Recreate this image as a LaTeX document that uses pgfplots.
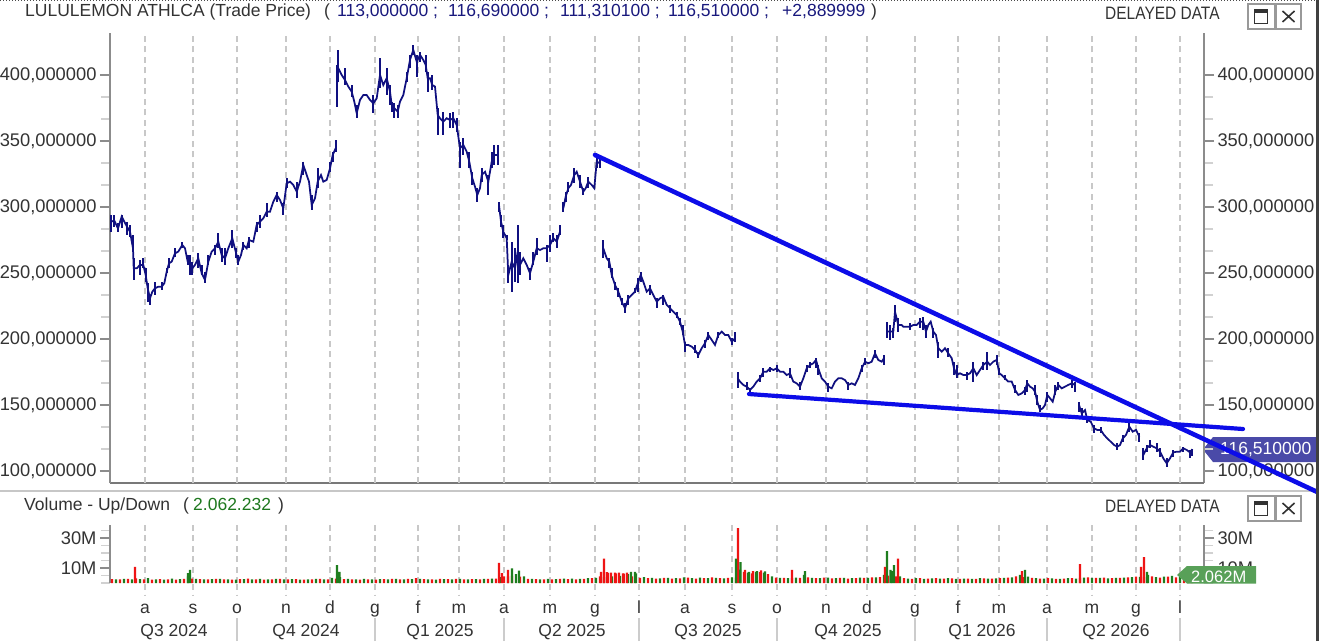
\documentclass[border=0pt]{standalone}
\usepackage{fontspec}
\setmainfont{Liberation Sans}
\newfontfamily\narrowfont[FakeStretch=0.86]{Liberation Sans}
\usepackage{pgfplots}
\pgfplotsset{compat=1.18}
\usepackage{pgfplotstable}
\definecolor{navyc}{RGB}{16,16,128}
\definecolor{trendblue}{RGB}{12,12,232}
\definecolor{volred}{RGB}{238,20,20}
\definecolor{volgreen}{RGB}{30,125,30}
\definecolor{tagblue}{RGB}{74,74,168}
\definecolor{taggreen}{RGB}{88,160,88}
\definecolor{gridgray}{RGB}{200,200,200}
\definecolor{axisgray}{RGB}{140,140,140}
\definecolor{axisdark}{RGB}{120,120,120}
\definecolor{textgray}{RGB}{51,51,51}
\definecolor{titlenavy}{RGB}{25,25,125}
\definecolor{valgreen}{RGB}{30,120,30}
\newcommand\fs{\fontsize{17.5pt}{21pt}\selectfont}
\newcommand\fst{\fontsize{18.3pt}{21pt}\selectfont}

\pgfplotstableread{
x y h l
111.0 288.9 293.9 281.3
114.3 289.6 293.9 285.1
118.0 283.8 287.6 281.3
121.7 292.7 293.9 283.8
124.3 288.9 288.9 288.9
127.0 285.1 288.9 278.8
130.0 281.3 286.4 277.5
133.0 268.7 278.8 267.4
133.7 253.5 261.1 244.7
136.7 253.5 253.5 253.5
140.0 256.1 259.8 248.5
143.3 256.1 261.1 253.5
145.7 248.5 253.5 243.4
147.7 238.4 242.2 228.3
150.0 230.8 233.3 225.8
152.3 235.8 235.8 235.8
155.0 238.4 243.4 233.3
158.3 239.6 239.6 239.6
161.7 239.6 243.4 237.1
164.3 242.2 242.2 242.2
166.7 251.0 253.5 249.8
169.0 257.3 261.1 253.5
171.7 258.6 258.6 258.6
175.0 264.9 268.7 262.4
178.3 266.2 266.2 266.2
182.3 271.2 273.7 268.7
185.0 268.7 268.7 268.7
187.7 258.6 263.6 256.1
190.0 256.1 263.6 248.5
192.3 253.5 258.6 248.5
195.0 256.1 256.1 256.1
198.3 261.1 264.9 253.5
201.7 249.8 256.1 248.5
205.0 244.7 251.0 242.2
208.3 258.6 263.6 256.1
211.7 266.2 266.2 266.2
215.0 268.7 271.2 263.6
218.3 273.7 280.0 268.7
221.7 263.6 268.7 258.6
225.0 261.1 268.7 256.1
228.3 268.7 268.7 268.7
232.3 276.3 282.6 268.7
235.7 266.2 268.7 261.1
238.3 258.6 263.6 256.1
241.0 263.6 263.6 263.6
243.3 271.2 273.7 267.4
246.7 268.7 268.7 268.7
249.0 275.0 277.5 268.7
253.3 273.7 273.7 273.7
256.7 286.4 288.9 281.3
260.0 288.9 293.9 283.8
263.3 291.4 291.4 291.4
266.7 296.4 302.8 292.7
270.0 296.4 296.4 296.4
273.3 304.0 304.0 304.0
276.7 309.1 311.6 304.0
280.0 305.3 305.3 305.3
283.3 299.0 302.8 293.9
286.7 317.9 321.7 314.2
290.0 319.2 319.2 319.2
293.3 316.7 316.7 316.7
296.7 311.6 319.2 306.6
300.0 319.2 319.2 319.2
303.3 331.8 334.3 324.2
306.7 324.2 324.2 324.2
309.0 319.2 319.2 319.2
311.7 301.5 309.1 297.7
315.0 306.6 306.6 306.6
317.7 319.2 329.3 314.2
321.0 324.2 324.2 324.2
323.3 319.2 319.2 319.2
326.7 320.5 320.5 320.5
330.0 329.3 334.3 326.7
332.7 339.4 341.9 334.3
335.7 344.5 350.8 341.9
336.9 392.4 407.6 376.0
338.3 405.1 418.9 394.9
341.7 400.0 400.0 400.0
345.0 396.2 405.1 392.4
348.3 391.2 391.2 391.2
351.7 387.4 392.4 383.6
354.3 379.8 379.8 379.8
356.7 371.0 377.3 367.2
360.0 381.1 381.1 381.1
363.3 384.8 384.8 384.8
366.7 384.8 384.8 384.8
370.0 381.1 381.1 381.1
373.3 378.5 384.8 371.0
376.7 382.3 382.3 382.3
380.0 400.0 412.6 389.9
383.3 392.4 392.4 392.4
386.7 397.5 405.1 384.8
390.0 387.4 392.4 377.3
391.7 377.3 379.8 372.2
394.3 374.8 378.5 367.2
397.7 372.2 377.3 367.2
400.0 379.8 379.8 379.8
403.3 384.8 384.8 384.8
406.7 397.5 402.5 394.9
410.0 411.4 415.2 405.1
413.3 418.9 422.7 415.2
416.7 410.1 415.2 398.7
420.0 415.2 417.7 410.1
423.3 411.4 411.4 411.4
425.7 407.6 415.2 402.5
427.7 397.5 402.5 387.4
430.0 397.5 397.5 397.5
432.3 392.4 400.0 388.6
435.0 391.2 391.2 391.2
437.7 369.7 374.8 354.5
440.0 367.2 367.2 367.2
443.3 364.6 372.2 354.5
446.7 367.2 367.2 367.2
450.0 365.9 371.0 359.6
453.3 367.2 372.2 359.6
456.7 362.1 367.2 357.0
460.0 344.5 349.5 329.3
463.3 347.0 352.0 339.4
466.7 341.9 341.9 341.9
469.3 334.3 341.9 329.3
472.3 321.7 326.7 316.7
475.0 315.4 315.4 315.4
477.3 309.1 314.2 304.0
480.0 314.2 314.2 314.2
481.7 324.2 329.3 319.2
485.0 326.7 326.7 326.7
488.3 319.2 324.2 309.1
491.7 334.3 341.9 329.3
494.3 339.4 347.0 331.8
497.7 339.4 347.0 331.8
499.0 301.5 304.0 296.4
501.0 288.9 293.9 285.1
503.3 281.3 286.4 276.3
506.7 276.3 278.8 275.0
508.3 248.5 253.5 242.2
511.7 258.6 273.7 235.8
515.0 253.5 268.7 243.4
517.7 266.2 286.4 242.2
520.0 256.1 266.2 248.5
523.3 261.1 261.1 261.1
526.7 256.1 256.1 256.1
530.0 249.8 253.5 244.7
533.3 258.6 266.2 256.1
536.7 268.7 276.3 263.6
540.0 267.4 267.4 267.4
543.3 268.7 268.7 268.7
546.7 268.7 271.2 258.6
550.0 271.2 278.8 266.2
553.3 276.3 280.0 273.7
556.7 273.7 278.8 268.7
560.0 281.3 286.4 278.8
563.3 299.0 304.0 296.4
565.7 307.8 311.6 304.0
568.3 314.2 319.2 311.6
571.0 316.7 316.7 316.7
574.3 324.2 329.3 317.9
576.7 326.7 326.7 326.7
580.0 319.2 324.2 314.2
583.3 311.6 314.2 309.1
585.7 314.2 314.2 314.2
588.3 319.2 323.0 314.2
591.7 316.7 316.7 316.7
594.3 314.2 314.2 314.2
596.7 334.3 339.4 329.3
600.0 333.1 336.9 329.3
603.3 268.7 275.0 261.1
606.7 261.1 261.1 261.1
609.3 258.6 261.1 253.5
611.7 248.5 253.5 246.0
615.0 240.9 243.4 237.1
618.3 235.8 238.4 232.0
621.7 228.3 230.8 225.8
625.0 223.3 227.0 219.5
628.3 230.8 233.3 225.8
631.7 233.3 233.3 233.3
635.0 235.8 238.4 234.6
638.3 243.4 246.0 235.8
640.7 248.5 251.0 243.4
643.3 243.4 243.4 243.4
646.7 235.8 235.8 235.8
650.0 238.4 240.9 233.3
653.3 233.3 233.3 233.3
656.7 228.3 230.8 223.3
660.0 230.8 230.8 230.8
663.3 232.0 233.3 225.8
666.7 225.8 225.8 225.8
670.0 223.3 225.8 219.5
673.3 220.7 220.7 220.7
676.7 218.2 220.7 215.7
680.0 213.1 215.7 210.6
682.7 205.6 210.6 203.0
685.0 195.5 198.0 190.4
688.3 195.5 195.5 195.5
691.7 194.2 194.2 194.2
695.0 191.7 195.5 189.1
698.3 187.9 190.4 185.4
701.7 193.0 193.0 193.0
705.0 196.8 199.3 193.0
708.3 203.0 205.6 199.3
711.7 199.3 199.3 199.3
715.0 195.5 195.5 195.5
718.3 203.0 205.6 200.5
721.7 205.6 205.6 205.6
725.0 203.0 203.0 203.0
728.3 203.0 203.0 203.0
731.7 198.0 200.5 195.5
735.0 200.5 205.6 198.0
737.7 170.2 175.2 162.6
740.0 167.7 167.7 167.7
743.3 165.2 165.2 165.2
746.7 163.9 167.7 161.4
750.0 161.4 162.6 158.8
753.3 163.9 163.9 163.9
756.7 167.7 167.7 167.7
760.0 170.2 172.7 167.7
763.3 175.2 177.8 171.5
766.7 175.2 175.2 175.2
770.0 177.8 179.0 175.2
773.3 176.5 176.5 176.5
776.7 177.8 180.3 175.2
780.0 175.2 175.2 175.2
783.3 175.2 175.2 175.2
786.7 172.7 172.7 172.7
790.0 173.9 177.8 170.2
793.3 167.7 167.7 167.7
796.7 166.4 166.4 166.4
800.0 163.9 167.7 161.4
803.3 170.2 170.2 170.2
806.7 177.8 180.3 175.2
810.0 180.3 182.8 177.8
813.3 181.6 181.6 181.6
816.0 184.1 185.4 177.8
818.3 177.8 180.3 172.7
821.7 170.2 170.2 170.2
825.0 167.7 167.7 167.7
828.3 163.9 166.4 160.1
831.7 162.6 162.6 162.6
835.0 167.7 167.7 167.7
838.3 170.2 170.2 170.2
841.7 170.2 170.2 170.2
845.0 168.9 168.9 168.9
848.3 165.2 167.7 161.4
851.7 166.4 166.4 166.4
855.0 165.2 165.2 165.2
858.3 170.2 170.2 170.2
861.7 177.8 180.3 175.2
865.0 182.8 185.4 180.3
868.3 181.6 181.6 181.6
871.7 182.8 182.8 182.8
875.0 189.1 191.7 185.4
878.3 184.1 184.1 184.1
881.7 182.8 182.8 182.8
884.0 185.4 187.9 180.3
886.7 205.6 213.1 200.5
890.0 205.6 210.6 199.3
893.3 205.6 208.1 200.5
895.0 220.7 225.8 213.1
898.3 210.6 215.7 205.6
901.7 210.6 210.6 210.6
903.3 209.3 209.3 209.3
906.7 209.3 209.3 209.3
910.0 209.3 211.9 206.8
913.3 210.6 210.6 210.6
916.7 210.6 210.6 210.6
920.0 213.1 215.7 208.1
923.3 213.1 216.9 206.8
926.0 205.6 210.6 200.5
928.3 210.6 210.6 210.6
930.7 213.1 213.1 213.1
933.3 205.6 208.1 200.5
936.0 203.0 203.0 203.0
938.3 193.0 198.0 185.4
941.7 190.4 190.4 190.4
945.0 193.0 193.0 193.0
948.3 189.1 193.0 186.6
951.7 185.4 185.4 185.4
954.0 177.8 182.8 172.7
956.7 172.7 180.3 170.2
960.0 174.0 174.0 174.0
963.3 172.7 172.7 172.7
966.7 172.7 175.2 168.9
970.0 174.0 174.0 174.0
973.3 177.8 182.8 167.7
976.7 172.7 172.7 172.7
980.0 176.5 176.5 176.5
983.3 180.3 182.8 176.5
987.3 182.8 190.4 176.5
990.0 180.3 180.3 180.3
993.3 182.8 182.8 182.8
996.7 184.1 187.9 180.3
999.3 174.0 177.8 172.7
1001.7 172.7 172.7 172.7
1005.0 170.2 172.7 168.9
1008.3 167.7 167.7 167.7
1011.7 167.7 167.7 167.7
1015.0 161.4 165.2 158.8
1018.3 157.6 157.6 157.6
1021.7 158.8 158.8 158.8
1025.0 161.4 163.9 157.6
1027.3 166.4 168.9 160.1
1030.0 163.9 163.9 163.9
1032.7 162.6 162.6 162.6
1035.0 160.1 165.2 157.6
1037.3 152.5 157.6 150.0
1040.0 146.2 150.0 144.9
1042.7 147.5 147.5 147.5
1045.0 150.0 150.0 150.0
1047.3 157.6 160.1 152.5
1050.0 155.1 155.1 155.1
1052.7 152.5 152.5 152.5
1055.3 160.1 165.2 157.6
1058.3 165.2 167.7 161.4
1061.7 162.6 162.6 162.6
1065.0 163.9 163.9 163.9
1068.3 165.2 165.2 165.2
1071.7 166.4 168.9 162.6
1075.0 165.2 167.7 160.1
1079.0 150.0 152.5 144.9
1081.7 143.7 147.5 141.1
1085.0 146.2 146.2 146.2
1087.3 138.6 141.1 136.1
1090.7 137.4 137.4 137.4
1094.0 132.3 134.8 128.5
1097.3 131.1 131.1 131.1
1100.7 131.1 133.6 128.5
1104.0 127.3 127.3 127.3
1107.3 124.7 124.7 124.7
1110.7 122.2 122.2 122.2
1114.0 119.7 119.7 119.7
1117.3 118.4 121.0 115.9
1120.0 119.7 119.7 119.7
1122.7 124.7 127.3 122.2
1126.0 127.3 127.3 127.3
1129.3 133.6 136.1 129.8
1132.7 129.8 129.8 129.8
1136.0 131.1 131.1 131.1
1139.3 126.0 128.5 122.2
1143.3 112.1 117.2 108.3
1146.7 117.2 119.7 114.6
1150.0 119.7 123.5 117.2
1153.3 118.4 118.4 118.4
1156.7 117.2 121.0 114.6
1160.0 114.6 117.2 110.8
1163.3 109.6 109.6 109.6
1166.7 105.8 109.6 103.3
1170.0 109.6 109.6 109.6
1173.3 114.1 115.9 110.8
1176.7 114.6 114.6 114.6
1180.0 114.6 114.6 114.6
1183.3 117.2 118.4 114.6
1186.7 115.9 115.9 115.9
1190.0 114.1 115.9 109.6
1192.3 116.5 116.7 111.3
}\pricedata

\pgfplotsset{
  pricestyle/.style={navyc, line width=1.75pt, mark=none, forget plot,
    error bars/.cd, y dir=both, y explicit, error mark=none,
    error bar style={line width=2pt, navyc}},
  volbar/.style={ybar, bar width=2.3pt, bar shift=0pt, draw=none, fill=#1, forget plot},
  panel/.style={anchor=south west, scale only axis, width=1094pt,
    xmin=110, xmax=1204, tick align=outside,
    major tick length=10pt, minor tick length=9pt,
    major tick style={axisgray, line width=1.3pt},
    minor tick style={black!18, line width=1.3pt},
    yticklabel style={font=\fst, text=textgray},
    y axis line style={draw=axisgray, line width=2pt},
    major grid style={gridgray, line width=1.3pt, dash pattern=on 6pt off 4.5pt}},
  monthgrid/.style={xtick=\empty,
    extra x ticks={145,193,237,286,330,375,418,459,504,550,595,639,685,732,777,826,867,915,958,999,1047,1092,1136,1180},
    extra x tick labels={},
    extra x tick style={grid=major, major tick length=0pt}},
}
\newcommand\seg[2]{\addplot[restrict x to domain=#1:#2, pricestyle] table[x=x, y=y, y error plus expr={\thisrow{h}-\thisrow{y}}, y error minus expr={\thisrow{y}-\thisrow{l}}] {\pricedata};}

\begin{document}
\begin{tikzpicture}[x=1pt,y=1pt]
\useasboundingbox (0,0) rectangle (1319,641);
\fill[white] (0,0) rectangle (1319,641);
\clip (0,0) rectangle (1319,641);
% top dotted line
\draw[black!70, line width=1.3pt, dash pattern=on 1.3pt off 1.7pt] (0,640.3) -- (1319,640.3);
% header
\node[anchor=base west, inner sep=0, text=textgray, font=\fs] at (25,624) {LULULEMON ATHLCA (Trade Price)};
\node[anchor=base west, inner sep=0, text=textgray, font=\fs] at (324,624) {(};
\node[anchor=base west, inner sep=0, text=titlenavy, font=\fs] at (337,624) {113,000000 ;};
\node[anchor=base west, inner sep=0, text=titlenavy, font=\fs] at (448,624) {116,690000 ;};
\node[anchor=base west, inner sep=0, text=titlenavy, font=\fs] at (560,624) {111,310100 ;};
\node[anchor=base west, inner sep=0, text=titlenavy, font=\fs] at (668,624) {116,510000 ;};
\node[anchor=base west, inner sep=0, text=titlenavy, font=\fs] at (782,624) {+2,889999};
\node[anchor=base west, inner sep=0, text=textgray, font=\fs] at (871,624) {)};
\node[anchor=base west, inner sep=0, text=textgray, font=\narrowfont\fontsize{18pt}{21pt}\selectfont] at (1105,621) {DELAYED DATA};
\foreach \yy in {612,120}{
  \begin{scope}[yshift=\yy pt]
  \draw[black!40, line width=1.5pt] (1248,0) rectangle (1274.5,25);
  \draw[black!40, line width=1.5pt] (1276,0) rectangle (1301,25);
  \draw[black!80, line width=1.2pt] (1254.5,5.5) rectangle (1267.5,19);
  \fill[black!80] (1254.5,16) rectangle (1267.5,19);
  \draw[black!80, line width=1.6pt] (1282.5,7) -- (1294.5,18) (1282.5,18) -- (1294.5,7);
  \end{scope}
}
% separator
\draw[black!22, line width=2pt] (0,150) -- (1319,150);
% price tag
\fill[tagblue] (1203,191.5) -- (1213,204) -- (1319,204) -- (1319,179) -- (1213,179) -- cycle;
\node[anchor=west, inner sep=0, text=white, font=\fs] at (1220,191.5) {116,510000};
% right price labels
\begin{axis}[panel, at={(110pt,158pt)}, height=450pt, ymin=90.9, ymax=431.8,
  axis x line=none, xtick=\empty, axis y line*=right, ytick pos=right, yticklabel pos=right,
  ytick={100,150,200,250,300,350,400},
  yticklabels={{100,000000},{150,000000},{200,000000},{250,000000},{300,000000},{350,000000},{400,000000}},
  minor y tick num=2]
\end{axis}
% main price panel
\begin{axis}[panel, monthgrid, at={(110pt,158pt)}, height=450pt, ymin=90.9, ymax=431.8,
  axis x line*=bottom, axis y line*=left, ytick pos=left, yticklabel pos=left,
  x axis line style={draw=axisdark, line width=2.5pt},
  ytick={100,150,200,250,300,350,400},
  yticklabels={{100,000000},{150,000000},{200,000000},{250,000000},{300,000000},{350,000000},{400,000000}},
  minor y tick num=2, clip=false]
\seg{110}{336}
\seg{336.5}{498}
\seg{498.5}{561}
\seg{562}{601}
\seg{602}{736}
\seg{737}{885}
\seg{886}{1076}
\seg{1078}{1140}
\seg{1142}{1193}
\addplot[trendblue, line width=4.6pt, line cap=round] coordinates {(595,339.4) (1330,79.6)};
\addplot[trendblue, line width=4.2pt, line cap=round] coordinates {(749,158.3) (1243,131.8)};
\end{axis}
% volume panel title
\node[anchor=base west, inner sep=0, text=textgray, font=\fs] at (24,131) {Volume - Up/Down};
\node[anchor=base west, inner sep=0, text=textgray, font=\fs] at (183,131) {(};
\node[anchor=base west, inner sep=0, text=valgreen, font=\fs] at (193,131) {2.062.232};
\node[anchor=base west, inner sep=0, text=textgray, font=\fs] at (278,131) {)};
\node[anchor=base west, inner sep=0, text=textgray, font=\narrowfont\fontsize{18pt}{21pt}\selectfont] at (1105,129) {DELAYED DATA};
% right volume labels
\begin{axis}[panel, at={(110pt,58pt)}, height=58pt, ymin=0, ymax=38.7,
  axis x line=none, xtick=\empty, axis y line*=right, ytick pos=right, yticklabel pos=right,
  ytick={10,30}, yticklabels={10M,30M}, minor ytick={0,5,15,20,25,35}]
\end{axis}
% volume panel
\begin{axis}[panel, monthgrid, at={(110pt,58pt)}, height=58pt, ymin=0, ymax=38.7,
  axis x line*=bottom, x axis line style={draw=none}, axis y line*=left, ytick pos=left, yticklabel pos=left,
  ytick={10,30}, yticklabels={10M,30M}, minor ytick={0,5,15,20,25,35}, clip=false]
\addplot[volbar=volred] coordinates {(112,2.6)(120,2.4)(128,2.7)(136,3.1)(144,2.5)(152,2.3)(160,2.6)(168,2.4)(176,2.2)(184,2.8)(192,3.0)(200,2.6)(208,2.4)(216,2.7)(224,2.5)(232,2.3)(240,2.6)(248,2.9)(256,2.4)(264,2.2)(272,2.5)(280,2.7)(288,2.4)(296,2.6)(304,2.3)(312,2.5)(320,2.8)(328,2.4)(336,3.0)(344,2.6)(352,2.4)(360,2.3)(368,2.5)(376,2.2)(384,2.6)(392,2.8)(400,2.4)(408,2.7)(416,3.2)(424,2.6)(432,2.5)(440,2.7)(448,2.6)(456,2.8)(464,2.5)(472,2.6)(480,2.4)(488,2.7)(496,3.0)(504,4.5)(512,5.0)(520,4.2)(528,2.8)(536,2.6)(544,2.5)(552,2.4)(560,2.7)(568,2.6)(576,2.5)(584,2.8)(592,3.2)(600,4.5)(608,6.8)(616,6.5)(624,6.2)(632,4.5)(640,3.5)(648,3.2)(656,3.0)(664,3.4)(672,2.9)(680,3.1)(688,3.6)(696,3.0)(704,3.3)(712,3.8)(720,3.2)(728,3.5)(736,3.6)(744,7.5)(752,6.5)(760,7.2)(768,6.0)(776,3.6)(784,3.4)(792,3.2)(800,3.5)(808,3.8)(816,3.3)(824,3.6)(832,3.1)(840,3.4)(848,3.0)(856,3.3)(864,3.5)(872,3.8)(880,4.0)(888,5.0)(896,4.5)(904,3.2)(912,2.8)(920,3.3)(928,3.0)(936,3.2)(944,2.9)(952,3.1)(960,2.8)(968,3.0)(976,2.7)(984,3.1)(992,2.9)(1000,3.2)(1008,3.6)(1016,4.5)(1024,4.0)(1032,3.4)(1040,3.0)(1048,3.2)(1056,2.8)(1064,3.0)(1072,3.3)(1080,3.5)(1088,3.8)(1096,3.4)(1104,3.6)(1112,3.2)(1120,3.5)(1128,3.7)(1136,4.2)(1144,4.0)(1152,4.5)(1160,3.6)(1168,4.2)(1176,3.8)(1184,4.4)(1192,3.5)};
\addplot[volbar=volgreen] coordinates {(116,2.5)(124,2.8)(132,2.4)(140,2.6)(148,3.2)(156,2.5)(164,2.3)(172,2.9)(180,2.6)(188,4.5)(196,2.7)(204,2.4)(212,2.6)(220,2.8)(228,2.5)(236,2.3)(244,2.6)(252,2.4)(260,2.7)(268,2.5)(276,2.8)(284,2.4)(292,2.6)(300,2.3)(308,2.5)(316,2.7)(324,2.4)(332,3.5)(340,4.0)(348,2.8)(356,2.5)(364,2.7)(372,2.4)(380,2.6)(388,2.5)(396,2.8)(404,2.4)(412,2.6)(420,2.7)(428,2.5)(436,2.3)(444,2.6)(452,2.4)(460,2.7)(468,2.5)(476,2.6)(484,2.8)(492,3.0)(500,4.0)(508,4.5)(516,6.0)(524,4.5)(532,2.7)(540,2.5)(548,2.8)(556,2.6)(564,2.9)(572,3.0)(580,2.7)(588,3.3)(596,3.5)(604,4.0)(612,4.5)(620,4.8)(628,6.0)(636,6.5)(644,4.0)(652,3.4)(660,3.1)(668,3.5)(676,3.2)(684,3.8)(692,3.3)(700,3.6)(708,3.2)(716,3.4)(724,3.1)(732,3.8)(740,9.0)(748,7.0)(756,7.5)(764,7.0)(772,4.5)(780,3.5)(788,3.2)(796,3.6)(804,5.5)(812,3.4)(820,3.2)(828,3.6)(836,3.3)(844,3.5)(852,3.2)(860,3.6)(868,3.4)(876,3.7)(884,5.5)(892,8.0)(900,4.5)(908,3.0)(916,3.2)(924,2.8)(932,3.1)(940,2.9)(948,3.3)(956,2.8)(964,3.0)(972,2.7)(980,3.2)(988,2.9)(996,3.1)(1004,3.4)(1012,3.8)(1020,5.5)(1028,4.2)(1036,3.3)(1044,2.9)(1052,3.1)(1060,2.8)(1068,3.2)(1076,3.0)(1084,3.6)(1092,3.3)(1100,3.5)(1108,3.1)(1116,3.4)(1124,3.6)(1132,3.9)(1140,4.1)(1148,5.5)(1156,4.0)(1164,4.3)(1172,4.8)(1180,4.0)(1188,3.8)};
\addplot[volbar=volred] coordinates {(135,10.8)(499,13.4)(502,6.6)(508,8.7)(601,7.5)(604,16.2)(607,7.2)(611,7.0)(615,7.0)(619,7.0)(623,6.5)(627,7.0)(738,36.7)(745,8.7)(753,8.0)(761,8.5)(792,8.7)(885,10.8)(898,16.2)(1022,8.0)(1080,12.6)(1141,10.8)(1144,17.3)};
\addplot[volbar=volgreen] coordinates {(188,6.6)(190,8.7)(337,11.9)(339.5,7.5)(512,9.8)(519,8.2)(631,7.5)(635,7.5)(736,16.2)(740.5,14.0)(749,7.5)(757,8.0)(765,7.8)(805,8.0)(887,21.2)(890.5,8.7)(894,11.9)(1025,8.7)(1147,7.5)};
\end{axis}
% volume tag
\fill[taggreen] (1177,66) -- (1187,75) -- (1256,75) -- (1256,57.5) -- (1187,57.5) -- cycle;
\node[anchor=base west, inner sep=0, text=white, font=\fontsize{16.5pt}{19pt}\selectfont] at (1191,58.5) {2.062M};
% grid extensions below volume
\foreach \x in {145,193,237,286,330,375,418,459,504,550,595,639,685,732,777,826,867,915,958,999,1047,1092,1136,1180}
  \draw[gridgray, line width=1.3pt, dash pattern=on 6pt off 4.5pt] (\x,57) -- (\x,46);
% month letters
\foreach \x/\t in {145/a,193/s,237/o,286/n,330/d,375/g,418/f,459/m,504/a,550/m,595/g,639/l,685/a,732/s,777/o,826/n,867/d,915/g,958/f,999/m,1047/a,1092/m,1136/g,1180/l}
  \node[anchor=base, inner sep=0, text=textgray, font=\fs] at (\x,28) {\t};
% quarter labels
\foreach \x/\t in {174/Q3 2024,306/Q4 2024,440/Q1 2025,572/Q2 2025,708/Q3 2025,848/Q4 2025,982/Q1 2026,1116/Q2 2026}
  \node[anchor=base, inner sep=0, text=textgray, font=\fs] at (\x,4.5) {\t};
\foreach \x in {237,375,504,639,777,915,1047,1180}
  \draw[black!20, line width=1.5pt] (\x,0) -- (\x,23);
% right window border
\draw[black!75, line width=2.5pt] (1317.5,0) -- (1317.5,641);
\end{tikzpicture}
\end{document}
